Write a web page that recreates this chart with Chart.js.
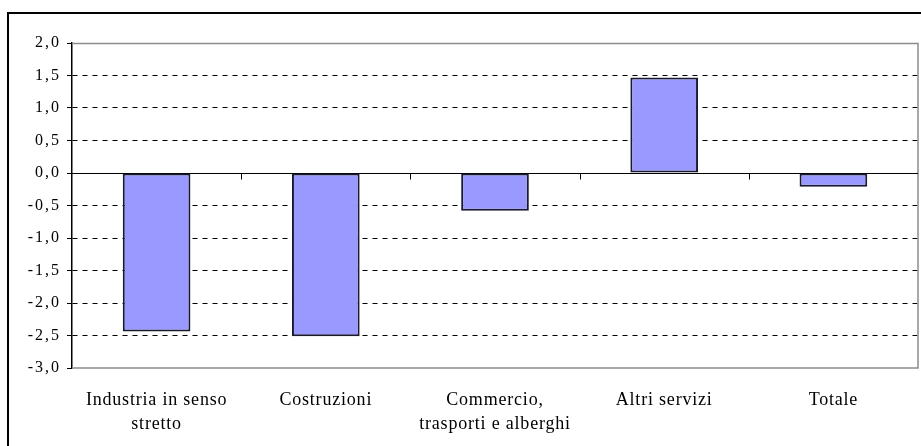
<!DOCTYPE html>
<html>
<head>
<meta charset="utf-8">
<script src="https://cdn.jsdelivr.net/npm/chart.js@4"></script>
<style>
  html, body { margin: 0; padding: 0; background: #fff; }
  #canvas { display: block; }
</style>
</head>
<body>
<canvas id="canvas" width="921" height="446"></canvas>
<script>
const categories = [
  ["Industria in senso", "stretto"],
  "Costruzioni",
  ["Commercio,", "trasporti e alberghi"],
  "Altri servizi",
  "Totale"
];
const values = [-2.44, -2.51, -0.58, 1.47, -0.21];
const yMin = -3.0;
const yMax = 2.0;
const yStep = 0.5;

// frame + plot border + zero line with category ticks, and wider text spacing
const decorations = {
  id: 'decorations',
  beforeDraw(chart) {
    chart.ctx.letterSpacing = '2px';
  },
  beforeDatasetsDraw(chart) {
    const ctx = chart.ctx;
    const a = chart.chartArea;
    const x = chart.scales.x;
    const y = chart.scales.y;
    ctx.save();
    ctx.strokeStyle = '#8c8c8c';
    ctx.lineWidth = 1.5;
    ctx.beginPath();
    ctx.moveTo(a.left, a.top + 0.5);
    ctx.lineTo(a.right, a.top + 0.5);
    ctx.lineTo(a.right, a.bottom);
    ctx.lineTo(a.left, a.bottom);
    ctx.stroke();

    const zy = Math.round(y.getPixelForValue(0)) + 0.5;
    ctx.strokeStyle = '#000';
    ctx.lineWidth = 1;
    ctx.beginPath();
    ctx.moveTo(a.left, zy);
    ctx.lineTo(a.right, zy);
    const n = categories.length;
    const w = (a.right - a.left) / n;
    for (let i = 1; i < n; i++) {
      const tx = Math.round(x.getPixelForValue(i) - w / 2) + 0.5;
      ctx.moveTo(tx, zy);
      ctx.lineTo(tx, zy + 6);
    }
    ctx.stroke();
    ctx.restore();
  },
  afterDatasetsDraw(chart) {
    chart.ctx.letterSpacing = '0.8px';
  },
  afterDraw(chart) {
    const ctx = chart.ctx;
    ctx.save();
    ctx.letterSpacing = '0px';
    ctx.strokeStyle = '#000';
    ctx.lineWidth = 2;
    ctx.strokeRect(8, 13, 1000, 1000);
    ctx.restore();
  }
};

function create() {
  const data = {
    labels: categories,
    datasets: [{
      data: values,
      backgroundColor: '#9999ff',
      borderColor: '#1a1a2e',
      borderWidth: 2,
      borderSkipped: false,
      barPercentage: 0.4,
      categoryPercentage: 1.0
    }]
  };
  const config = {
    type: 'bar',
    data: data,
    options: {
      responsive: false,
      animation: false,
      layout: { padding: { top: 43, right: 3, left: 0, bottom: 0 } },
      plugins: { legend: { display: false }, tooltip: { enabled: false } },
      scales: {
        x: {
          grid: { display: false, drawTicks: false },
          border: { display: false },
          ticks: {
            z: 1,
            color: '#000',
            padding: 20,
            maxRotation: 0,
            autoSkip: false,
            font: { family: 'Liberation Serif', size: 18, lineHeight: 1.33 }
          },
          afterFit(scale) { scale.height = 78; }
        },
        y: {
          min: yMin,
          max: yMax,
          grid: {
            color(c) {
              const v = c.tick ? c.tick.value : null;
              if (v === 0 || v === yMin || v === yMax) return 'rgba(0,0,0,0)';
              return '#000';
            },
            tickColor: '#000',
            tickLength: 5,
            lineWidth: 1
          },
          border: { display: true, color: '#000', width: 1.5, dash: [5, 5] },
          ticks: {
            stepSize: yStep,
            color: '#000',
            padding: 6,
            font: { family: 'Liberation Serif', size: 16 },
            callback: v => v.toFixed(1).replace('.', ',')
          },
          afterFit(scale) { scale.width = 72; }
        }
      }
    },
    plugins: [decorations]
  };

  var canvas = document.getElementById("canvas");
  const chart = new Chart(canvas, config);
}
create();
</script>
</body>
</html>
